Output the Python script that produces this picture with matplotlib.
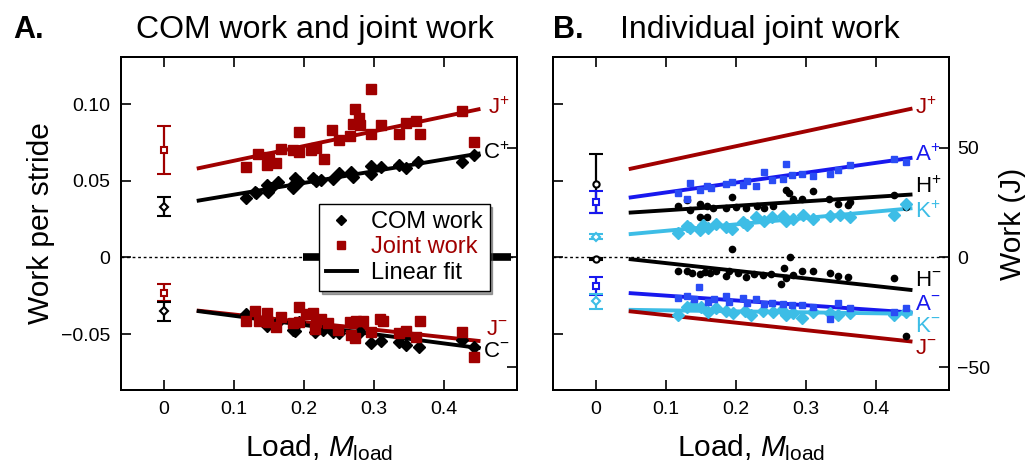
import matplotlib.pyplot as plt
from matplotlib.lines import Line2D

plt.rcParams['font.family'] = ['Liberation Sans', 'DejaVu Sans']
plt.rcParams['mathtext.fontset'] = 'custom'
plt.rcParams['mathtext.rm'] = 'Liberation Sans'
plt.rcParams['mathtext.it'] = 'Liberation Sans:italic'

DARK_RED = '#a00000'
BLUE = '#1818ee'
CYAN = '#3dbde6'
J_PER_UNIT = 700.0  # joules per unit of dimensionless work

# ---- panel A: COM work and summed joint work (dimensionless) ----
jpos_load = [0.118, 0.135, 0.147, 0.151, 0.160, 0.168, 0.185, 0.194, 0.194, 0.211,
             0.218, 0.229, 0.241, 0.251, 0.266, 0.270, 0.273, 0.279, 0.281, 0.297,
             0.297, 0.310, 0.336, 0.346, 0.361, 0.366, 0.427, 0.444]
jpos_work = [0.0592, 0.0675, 0.0603, 0.0657, 0.0614, 0.0707, 0.0701, 0.0690, 0.0816, 0.0701,
             0.0716, 0.0642, 0.0831, 0.0766, 0.0794, 0.0868, 0.0966, 0.0907, 0.0864, 0.1098,
             0.0803, 0.0864, 0.0807, 0.0879, 0.0890, 0.0803, 0.0955, 0.0755]

cpos_load = [0.118, 0.130, 0.132, 0.147, 0.149, 0.154, 0.163, 0.185, 0.185, 0.187,
             0.194, 0.213, 0.218, 0.225, 0.242, 0.251, 0.268, 0.271, 0.297, 0.297,
             0.311, 0.337, 0.347, 0.363, 0.427, 0.444]
cpos_work = [0.0386, 0.0429, 0.0422, 0.0473, 0.0429, 0.0455, 0.0490, 0.0473, 0.0451, 0.0516,
             0.0494, 0.0516, 0.0499, 0.0505, 0.0512, 0.0549, 0.0555, 0.0527, 0.0598, 0.0542,
             0.0592, 0.0603, 0.0585, 0.0621, 0.0621, 0.0668]

jneg_load = [0.118, 0.130, 0.136, 0.147, 0.149, 0.160, 0.168, 0.185, 0.193, 0.194,
             0.203, 0.213, 0.216, 0.218, 0.225, 0.235, 0.249, 0.266, 0.268, 0.273,
             0.275, 0.285, 0.297, 0.309, 0.313, 0.336, 0.346, 0.361, 0.366, 0.427, 0.444]
jneg_work = [-0.0412, -0.0347, -0.0412, -0.0360, -0.0419, -0.0455, -0.0386, -0.0429, -0.0325, -0.0419,
             -0.0368, -0.0364, -0.0468, -0.0419, -0.0403, -0.0429, -0.0473, -0.0419, -0.0505, -0.0527,
             -0.0412, -0.0412, -0.0484, -0.0403, -0.0412, -0.0490, -0.0477, -0.0516, -0.0412, -0.0484,
             -0.0647]

cneg_load = [0.118, 0.147, 0.162, 0.185, 0.187, 0.194, 0.216, 0.228, 0.242, 0.251,
             0.270, 0.280, 0.297, 0.311, 0.337, 0.347, 0.365, 0.427, 0.444]
cneg_work = [-0.0368, -0.0449, -0.0429, -0.0473, -0.0477, -0.0419, -0.0484, -0.0473, -0.0484, -0.0494,
             -0.0516, -0.0484, -0.0559, -0.0542, -0.0549, -0.0570, -0.0581, -0.0538, -0.0581]

# unloaded walking: mean and s.d.
a_unloaded = {'J+': (0.0701, 0.0154), 'C+': (0.0331, 0.0061),
              'J-': (-0.0229, 0.0055), 'C-': (-0.0352, 0.0062)}

# linear fits: (work at load 0.05, work at load 0.45)
fit_load = [0.05, 0.45]
a_fits = {'J+': [0.0582, 0.0966], 'C+': [0.0371, 0.0677],
          'J-': [-0.0347, -0.0544], 'C-': [-0.0350, -0.0590]}

# ---- panel B: hip, knee, ankle work (J) ----
apos_load = [0.118, 0.130, 0.135, 0.149, 0.159, 0.165, 0.186, 0.195, 0.210, 0.216,
             0.229, 0.241, 0.252, 0.268, 0.272, 0.280, 0.295, 0.310, 0.335, 0.346,
             0.363, 0.426, 0.444]
apos_work = [29.2, 26.5, 34.0, 30.7, 32.5, 31.9, 33.7, 34.5, 33.0, 34.9,
             32.5, 39.0, 35.2, 36.0, 42.5, 37.5, 38.3, 37.0, 38.3, 39.8,
             42.0, 45.1, 43.5]

hpos_load = [0.118, 0.130, 0.135, 0.149, 0.149, 0.159, 0.159, 0.168, 0.186, 0.195,
             0.201, 0.215, 0.230, 0.241, 0.253, 0.272, 0.277, 0.282, 0.295, 0.310,
             0.334, 0.346, 0.360, 0.363, 0.426, 0.444]
hpos_work = [23.4, 26.1, 21.6, 24.3, 18.6, 18.6, 23.4, 22.8, 22.4, 27.6,
             23.1, 22.8, 23.4, 22.8, 23.4, 30.7, 29.2, 26.9, 26.5, 30.4,
             26.5, 24.6, 23.9, 25.4, 28.4, 23.1]

kpos_load = [0.118, 0.130, 0.135, 0.149, 0.153, 0.161, 0.172, 0.186, 0.195, 0.210,
             0.216, 0.229, 0.241, 0.252, 0.268, 0.272, 0.282, 0.296, 0.310, 0.335,
             0.349, 0.363, 0.426, 0.444]
kpos_work = [11.0, 14.5, 13.3, 12.5, 15.0, 13.3, 15.5, 14.0, 12.8, 16.0,
             15.0, 18.3, 16.5, 18.3, 18.9, 16.5, 17.5, 19.3, 17.5, 19.0,
             19.3, 18.5, 19.3, 24.6]

hneg_load = [0.195, 0.278, 0.118, 0.130, 0.137, 0.149, 0.156, 0.163, 0.172, 0.186,
             0.191, 0.203, 0.215, 0.227, 0.239, 0.251, 0.265, 0.269, 0.272, 0.282,
             0.295, 0.310, 0.335, 0.346, 0.360, 0.426, 0.444]
hneg_work = [3.9, 0.4, -6.1, -6.4, -7.2, -7.6, -6.7, -7.2, -6.4, -8.3,
             -6.4, -7.2, -8.7, -7.6, -8.0, -7.6, -12.2, -4.6, -9.5, -8.0,
             -6.4, -6.1, -7.2, -8.3, -8.7, -9.2, -36.0]

aneg_load = [0.118, 0.130, 0.147, 0.141, 0.160, 0.169, 0.186, 0.191, 0.210, 0.216,
             0.229, 0.241, 0.252, 0.268, 0.280, 0.295, 0.310, 0.335, 0.346, 0.363,
             0.426, 0.444]
aneg_work = [-18.3, -17.4, -13.7, -18.9, -20.4, -18.9, -17.8, -20.1, -18.5, -20.8,
             -18.9, -21.3, -20.8, -21.3, -21.6, -21.9, -22.4, -28.0, -20.8, -23.1,
             -24.9, -23.1]

kneg_load = [0.118, 0.130, 0.139, 0.151, 0.160, 0.172, 0.186, 0.196, 0.213, 0.222,
             0.239, 0.253, 0.267, 0.272, 0.282, 0.295, 0.310, 0.335, 0.346, 0.363,
             0.426, 0.444]
kneg_work = [-26.4, -22.4, -21.6, -22.4, -24.9, -23.1, -24.3, -25.4, -24.3, -26.1,
             -24.3, -24.9, -23.9, -26.1, -25.4, -27.4, -24.9, -25.4, -26.1, -25.4,
             -26.4, -24.9]

b_unloaded = {'H+': (33.7, 13.3), 'A+': (25.4, 4.9), 'K+': (9.5, 1.2),
              'H-': (-0.8, 0.5), 'A-': (-13.0, 4.0), 'K-': (-20.0, 3.5)}

b_fits = {'J+': [40.5, 67.8], 'A+': [27.4, 45.4], 'H+': [20.5, 28.7], 'K+': [10.7, 22.4],
          'H-': [-0.8, -14.8], 'A-': [-16.3, -25.1], 'K-': [-23.9, -25.7], 'J-': [-24.6, -38.3]}

XLIM = (-0.061, 0.505)
YLIM = (-0.0864, 0.1307)
XTICKS = [0, 0.1, 0.2, 0.3, 0.4]
XTICKLABELS = ['0', '0.1', '0.2', '0.3', '0.4']
YTICKS = [-0.05, 0, 0.05, 0.10]
YTICKLABELS = ['\u22120.05', '0', '0.05', '0.10']
JTICKS = [-50, 0, 50]
JTICKLABELS = ['\u221250', '0', '50']
LINE_W = 2.8


def end_label(ax, x, y, name, sign, color, size=16):
    ax.text(x, y, name + r'$^{' + sign + '}$', color=color, fontsize=size,
            va='center', ha='left', clip_on=False)


def setup_axes(ax, axr, left_labels, right_labels):
    ax.set_xlim(XLIM)
    ax.set_ylim(YLIM)
    axr.set_ylim(YLIM[0] * J_PER_UNIT, YLIM[1] * J_PER_UNIT)
    ax.set_xticks(XTICKS)
    ax.set_xticklabels(XTICKLABELS)
    ax.set_yticks(YTICKS)
    axr.set_yticks(JTICKS)
    ax.set_yticklabels(YTICKLABELS if left_labels else [])
    axr.set_yticklabels(JTICKLABELS if right_labels else [])
    ax.tick_params(axis='both', direction='in', length=7, width=1.2,
                   labelsize=14, top=True, pad=8)
    ax.tick_params(axis='y', right=False)
    axr.tick_params(axis='y', direction='in', length=7, width=1.2,
                    labelsize=14, pad=6)
    for a in (ax, axr):
        for s in a.spines.values():
            s.set_linewidth(1.4)
    ax.axhline(0, color='black', lw=1.0, ls=(0, (2, 2)), zorder=1)
    ax.set_xlabel(r'Load, $\it{M}_{\rm load}$', fontsize=21.5, labelpad=10)


fig = plt.figure(figsize=(10.25, 4.63), dpi=100)
ax_a = fig.add_axes([121 / 1025, 1 - 390 / 463, 396 / 1025, 333 / 463])
ax_a_r = ax_a.twinx()
ax_b = fig.add_axes([553 / 1025, 1 - 390 / 463, 396 / 1025, 333 / 463])
ax_b_r = ax_b.twinx()

setup_axes(ax_a, ax_a_r, True, False)
setup_axes(ax_b, ax_b_r, False, True)

# panel A
ax_a.plot([0.199, 0.497], [0, 0], color='black', lw=5.5, solid_capstyle='butt', zorder=2)
for key, color in [('J+', DARK_RED), ('C+', 'black'), ('J-', DARK_RED), ('C-', 'black')]:
    ax_a.plot(fit_load, a_fits[key], color=color, lw=LINE_W, zorder=3)
ax_a.plot(cpos_load, cpos_work, 'D', color='black', ms=6.5, zorder=4)
ax_a.plot(cneg_load, cneg_work, 'D', color='black', ms=6.5, zorder=4)
ax_a.plot(jpos_load, jpos_work, 's', color=DARK_RED, ms=7.5, zorder=5)
ax_a.plot(jneg_load, jneg_work, 's', color=DARK_RED, ms=7.5, zorder=5)
for key, marker, color in [('J+', 's', DARK_RED), ('J-', 's', DARK_RED),
                           ('C+', 'D', 'black'), ('C-', 'D', 'black')]:
    mean, sd = a_unloaded[key]
    ax_a.errorbar(0, mean, yerr=sd, fmt=marker, ms=4.5, mfc='white', mec=color,
                  mew=1.5, ecolor=color, elinewidth=1.6, capsize=5, capthick=1.6, zorder=6)

end_label(ax_a, 0.463, 0.0975, 'J', '+', DARK_RED)
end_label(ax_a, 0.457, 0.0680, 'C', '+', 'black')
end_label(ax_a, 0.461, -0.0470, 'J', '-', DARK_RED)
end_label(ax_a, 0.457, -0.0615, 'C', '-', 'black')

handles = [Line2D([], [], marker='D', ls='none', color='black', ms=5),
           Line2D([], [], marker='s', ls='none', color=DARK_RED, ms=6),
           Line2D([], [], color='black', lw=LINE_W)]
leg = ax_a.legend(handles, ['COM work', 'Joint work', 'Linear fit'], loc='upper left',
                  bbox_to_anchor=(0.5, 0.559), borderaxespad=0, fontsize=17,
                  frameon=True, fancybox=False, shadow=True, handlelength=1.3,
                  handletextpad=0.6, borderpad=0.3, labelspacing=0.15,
                  labelcolor=['black', DARK_RED, 'black'])
leg.get_frame().set_edgecolor('black')
leg.get_frame().set_linewidth(1.0)
leg.set_zorder(10)
ax_a.set_ylabel('Work per stride', fontsize=21.5, labelpad=4)
ax_a.set_title('COM work and joint work', fontsize=23, pad=14, x=0.49)
fig.text(13 / 1025, 1 - 30 / 463, 'A.', fontsize=22, fontweight='bold', va='center')

# panel B (joules, on the right-hand axis)
b_colors = {'J': DARK_RED, 'A': BLUE, 'H': 'black', 'K': CYAN}
for key, ys in b_fits.items():
    ax_b_r.plot(fit_load, ys, color=b_colors[key[0]], lw=LINE_W, zorder=3)
ax_b_r.plot(hpos_load, hpos_work, 'o', color='black', ms=4.5, zorder=4)
ax_b_r.plot(hneg_load, hneg_work, 'o', color='black', ms=4.5, zorder=4)
ax_b_r.plot(kpos_load, kpos_work, 'D', color=CYAN, ms=6, zorder=4)
ax_b_r.plot(kneg_load, kneg_work, 'D', color=CYAN, ms=6, zorder=4)
ax_b_r.plot(apos_load, apos_work, 's', color='#2a4cf5', ms=4.5, zorder=5)
ax_b_r.plot(aneg_load, aneg_work, 's', color='#2a4cf5', ms=4.5, zorder=5)
b_markers = {'H': ('o', 'black'), 'A': ('s', BLUE), 'K': ('D', CYAN)}
for key, (mean, sd) in b_unloaded.items():
    marker, color = b_markers[key[0]]
    ax_b_r.errorbar(0, mean, yerr=sd, fmt=marker, ms=4.5, mfc='white', mec=color,
                    mew=1.5, ecolor=color, elinewidth=1.6, capsize=5, capthick=1.6, zorder=6)

for y, name, sign, color in [(68.0, 'J', '+', DARK_RED), (46.6, 'A', '+', BLUE),
                             (32.0, 'H', '+', 'black'), (20.5, 'K', '+', CYAN),
                             (-10.3, 'H', '-', 'black'), (-21.5, 'A', '-', BLUE),
                             (-31.5, 'K', '-', CYAN), (-41.5, 'J', '-', DARK_RED)]:
    end_label(ax_b_r, 0.456, y, name, sign, color)
ax_b_r.set_ylabel('Work (J)', fontsize=21.5, labelpad=6)
ax_b.set_title('Individual joint work', fontsize=23, pad=14, x=0.523)
fig.text(553 / 1025, 1 - 30 / 463, 'B.', fontsize=22, fontweight='bold', va='center')

fig.savefig('out.png', dpi=100)
